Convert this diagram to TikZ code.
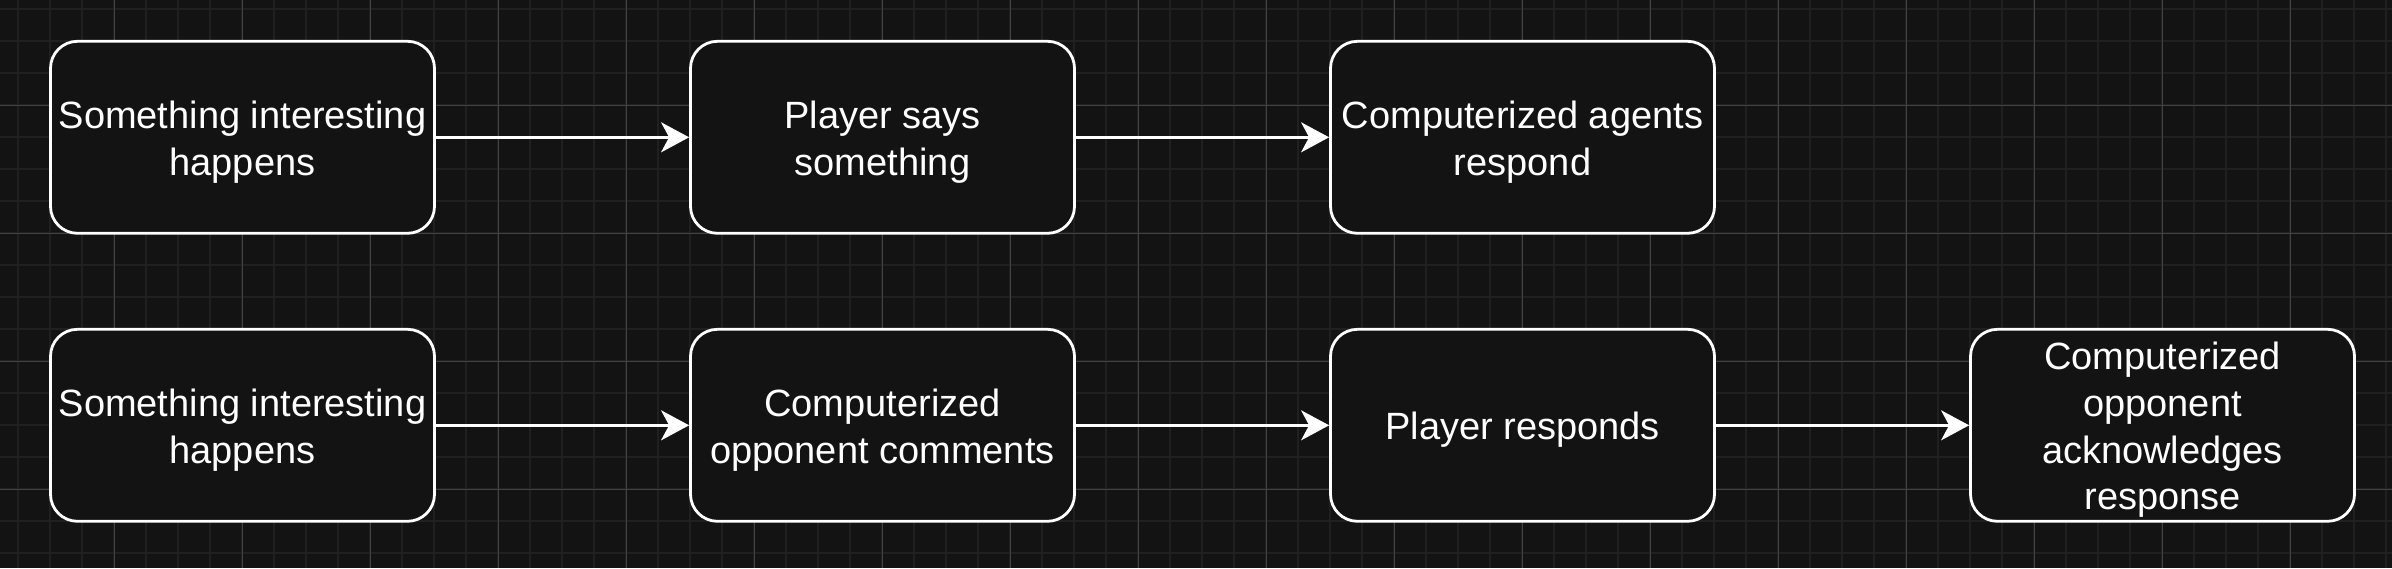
\documentclass[tikz,border=0pt]{standalone}
\usepackage{fontspec}
\setmainfont{Liberation Sans}
\usetikzlibrary{arrows.meta}
\definecolor{bgc}{RGB}{19,19,19}
\definecolor{gridminor}{RGB}{32,32,32}
\definecolor{gridmajor}{RGB}{66,66,66}
\tikzset{
  flowbox/.style={draw=white, fill=bgc, line width=1.4pt, rounded corners=13.5pt,
    minimum width=192pt, minimum height=96pt, inner sep=0pt},
  flowtext/.style={inner sep=0pt, align=center, text=white,
    font=\fontsize{19pt}{23.4pt}\selectfont},
  flowarrow/.style={draw=white, line width=1.35pt, -{Stealth[length=14pt,width=15pt,inset=4pt]}},
  minorline/.style={draw=gridminor, line width=1pt},
  majorline/.style={draw=gridmajor, line width=0.5pt}
}
\begin{document}
\begin{tikzpicture}[x=0.5pt,y=-0.5pt]
\fill[bgc] (0,0) rectangle (2392,568);
\useasboundingbox (0,0) rectangle (2392,568);
% grid
\foreach \i in {0,...,74} {
  \pgfmathsetmacro{\gx}{17.7+32*\i}
  \draw[minorline] (\gx,0) -- (\gx,568);
}
\foreach \i in {0,...,17} {
  \pgfmathsetmacro{\gy}{9.3+32*\i}
  \draw[minorline] (0,\gy) -- (2392,\gy);
}
\foreach \i in {0,...,17} {
  \pgfmathsetmacro{\gx}{114.3+128*\i}
  \draw[majorline] (\gx,0) -- (\gx,568);
}
\foreach \i in {0,...,3} {
  \pgfmathsetmacro{\gy}{105.3+128*\i}
  \draw[majorline] (0,\gy) -- (2392,\gy);
}
% row 1 boxes
\node[flowbox] (a1) at (242.5,137.3) {};
\node[flowbox] (a2) at (882.5,137.3) {};
\node[flowbox] (a3) at (1522.5,137.3) {};
% row 2 boxes
\node[flowbox] (b1) at (242.5,425.3) {};
\node[flowbox] (b2) at (882.5,425.3) {};
\node[flowbox] (b3) at (1522.5,425.3) {};
\node[flowbox] (b4) at (2162.5,425.3) {};
% texts
\node[flowtext] (a1t) at ([yshift=-2.3pt]a1.center) {Something interesting\\happens};
\node[flowtext] (a2t) at ([yshift=-2.3pt]a2.center) {Player says\\something};
\node[flowtext] (a3t) at ([yshift=-2.3pt]a3.center) {Computerized agents\\respond};
\node[flowtext] (b1t) at ([yshift=-2.3pt]b1.center) {Something interesting\\happens};
\node[flowtext] (b2t) at ([yshift=-2.3pt]b2.center) {Computerized\\opponent comments};
\node[flowtext] (b3t) at ([yshift=-2.3pt]b3.center) {Player responds};
\node[flowtext] (b4t) at ([yshift=-2.3pt]b4.center) {Computerized\\opponent\\acknowledges\\response};
% arrows
\draw[flowarrow] (a1) -- (a2);
\draw[flowarrow] (a2) -- (a3);
\draw[flowarrow] (b1) -- (b2);
\draw[flowarrow] (b2) -- (b3);
\draw[flowarrow] (b3) -- (b4);
\end{tikzpicture}
\end{document}
